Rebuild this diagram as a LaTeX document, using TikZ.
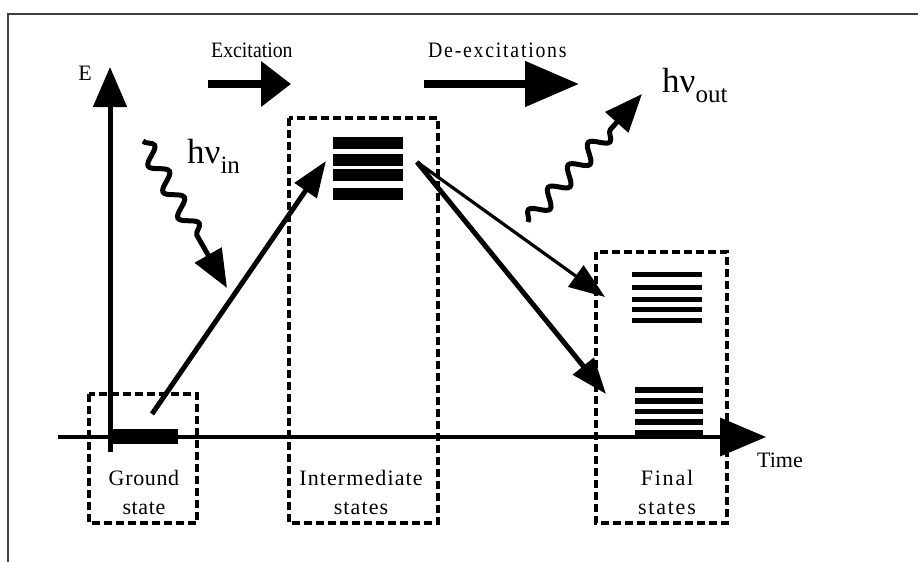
\documentclass[tikz,border=0pt]{standalone}
\usepackage{fontspec}
\setmainfont{Liberation Serif}
\usetikzlibrary{arrows.meta,decorations.pathmorphing}

\tikzset{
  lbl/.style={font=\fontsize{22pt}{29pt}\selectfont\addfontfeature{LetterSpace=#1},
    inner sep=0pt, align=center},
  lbl/.default=0,
  toplbl/.style={font=\fontsize{22pt}{29pt}\selectfont\addfontfeature{FakeStretch=0.9,LetterSpace=#1},
    inner sep=0pt},
  toplbl/.default=0,
  statebox/.style={draw=black, line width=3.4pt, dash pattern=on 8pt off 4pt},
  level/.style={line width=#1, black},
  bigarrow/.style={line width=8pt, -{Triangle[length=#1,width=44pt]}},
  jump/.style={line width=#1, -{Triangle[length=36pt,width=26pt]}},
  photon/.style={line width=5pt, decorate,
    decoration={snake, amplitude=8pt, segment length=30pt, post length=46pt},
    -{Triangle[length=38pt,width=30pt]}},
}

\begin{document}
\begin{tikzpicture}[x=1pt,y=-1pt]
\useasboundingbox (0,0) rectangle (918,562);
\fill[white] (0,0) rectangle (918,562);
% outer frame
\draw[line width=2pt, black!75] (8,580) -- (8,14) -- (940,14);

% state boxes
\draw[statebox] (89,394) rectangle (197,523);
\draw[statebox] (289,118) rectangle (438,523);
\draw[statebox] (596,252) rectangle (727,523);

% axes
\coordinate (tstart) at (58,437);
\coordinate (tend) at (766,437);
\coordinate (estart) at (110,452);
\coordinate (eend) at (110,67);
\draw[line width=4pt, -{Triangle[length=46pt,width=38pt]}] (tstart) -- (tend);
\draw[line width=5pt, -{Triangle[length=40pt,width=33pt]}] (estart) -- (eend);
\node[lbl, anchor=base] (elabel) at (85,80) {E};
\node[lbl, anchor=base] (tlabel) at (780,467) {Time};

% ground level
\fill (112,429) rectangle (178,444);

% intermediate levels
\foreach \y in {143,159.5,175,193.5} \draw[level=12pt] (333,\y) -- (403,\y);

% final levels (upper group)
\foreach \y in {274.5,287.5,299.5,309.5,320} \draw[level=5pt] (632,\y) -- (702,\y);
% final levels (lower group)
\foreach \y in {390,401,411.5,422} \draw[level=5.5pt] (635,\y) -- (703,\y);
\fill (635,430) rectangle (703,438);

% state labels (anchored on the baseline of the second line)
\node[lbl=3, anchor=base] (ground) at (144,514) {Ground\\state};
\node[lbl=5, anchor=base] (inter) at (361,514) {Intermediate\\states};
\node[lbl=8, anchor=base] (final) at (667,514) {Final\\states};

% transitions
\coordinate (g0) at (152,414);
\coordinate (i0) at (326,161);
\coordinate (i1) at (417,162);
\coordinate (f1) at (605,297);
\coordinate (f2) at (606,394);
\draw[jump=5pt] (g0) -- (i0);
\draw[jump=3.2pt] (i1) -- (f1);
\draw[jump=5pt] (i1) -- (f2);

% process arrows and labels
\node[toplbl, anchor=base west] (exc) at (211,57) {Excitation};
\node[toplbl=8, anchor=base west] (dexc) at (428,57) {De-excitations};
\coordinate (a0) at (208,84);
\coordinate (a1) at (291,84);
\coordinate (b0) at (424,84);
\coordinate (b1) at (579,84);
\draw[bigarrow=30pt] (a0) -- (a1);
\draw[bigarrow=54pt] (b0) -- (b1);

% photons
\coordinate (pin0) at (143,141);
\coordinate (pin1) at (227,288);
\coordinate (pout0) at (528,222);
\coordinate (pout1) at (642,94);
\draw[photon] (pin0) -- (pin1);
\draw[photon] (pout0) -- (pout1);
\node[inner sep=0pt, anchor=base west] (hvin) at (187,163)
  {\fontsize{35pt}{35pt}\selectfont hν\raisebox{-10pt}{\fontsize{25pt}{25pt}\selectfont in}};
\node[inner sep=0pt, anchor=base west] (hvout) at (662,92)
  {\fontsize{35pt}{35pt}\selectfont hν\raisebox{-10pt}{\fontsize{25pt}{25pt}\selectfont out}};
\end{tikzpicture}
\end{document}
